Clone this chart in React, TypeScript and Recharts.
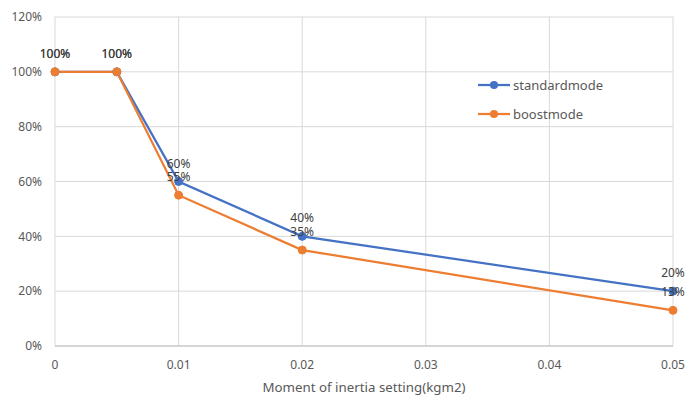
import {
  LineChart,
  Line,
  XAxis,
  YAxis,
  CartesianGrid,
  LabelList,
} from "recharts";

const inertia = [0, 0.005, 0.01, 0.02, 0.05];
const standardMode = [1.0, 1.0, 0.6, 0.4, 0.2];
const boostMode = [1.0, 1.0, 0.55, 0.35, 0.13];
const xTicks = [0, 0.01, 0.02, 0.03, 0.04, 0.05];
const yTicks = [0, 0.2, 0.4, 0.6, 0.8, 1.0, 1.2];

const BLUE = "#4472C4";
const ORANGE = "#ED7D31";
const FONT = "'Noto Sans', sans-serif";

const data = inertia.map((x, i) => ({
  x,
  standardmode: standardMode[i],
  boostmode: boostMode[i],
}));

const pct = (v: number) => `${Math.round(v * 100)}%`;

// legend sits inside the plot area, so it is drawn as an overlay
function LegendBox() {
  const items = [
    { name: "standardmode", color: BLUE },
    { name: "boostmode", color: ORANGE },
  ];
  return (
    <div
      style={{
        position: "absolute",
        left: 478,
        top: 70,
        fontFamily: FONT,
        fontSize: 13,
        color: "#595959",
      }}
    >
      {items.map((it) => (
        <div
          key={it.name}
          style={{ display: "flex", alignItems: "center", height: 29 }}
        >
          <svg width={34} height={10} style={{ marginRight: 1 }}>
            <line x1={0} y1={5} x2={32} y2={5} stroke={it.color} strokeWidth={2.25} />
            <circle cx={16} cy={5} r={4} fill={it.color} />
          </svg>
          <span>{it.name}</span>
        </div>
      ))}
    </div>
  );
}

export default function App() {
  return (
    <div style={{ position: "absolute", left: 0, top: 0, width: 699, height: 396, background: "#fff" }}>
      <LineChart
        width={699}
        height={396}
        data={data}
        margin={{ top: 17, right: 26, left: 0, bottom: 0 }}
      >
        <CartesianGrid stroke="#d9d9d9" strokeWidth={1} />
        <XAxis
          dataKey="x"
          type="number"
          domain={[0, 0.05]}
          ticks={xTicks}
          tickFormatter={(v: number) => String(v)}
          tickLine={false}
          tickMargin={8}
          axisLine={{ stroke: "#bfbfbf" }}
          height={50}
          tick={{ fill: "#595959", fontSize: 12, fontFamily: FONT }}
          label={{
            value: "Moment of inertia setting(kgm2)",
            position: "insideBottom",
            offset: 4,
            fill: "#595959",
            fontSize: 13.3,
            fontFamily: FONT,
          }}
        />
        <YAxis
          type="number"
          domain={[0, 1.2]}
          ticks={yTicks}
          tickFormatter={pct}
          tickLine={false}
          axisLine={false}
          tickMargin={7}
          width={55}
          tick={{ fill: "#595959", fontSize: 12, fontFamily: FONT }}
        />
        <Line
          dataKey="standardmode"
          stroke={BLUE}
          strokeWidth={2.25}
          dot={{ r: 4, fill: BLUE, stroke: BLUE, strokeWidth: 1 }}
          isAnimationActive={false}
        >
          <LabelList
            dataKey="standardmode"
            position="top"
            offset={14}
            formatter={(v: number) => pct(v)}
            style={{ fill: "#404040", fontSize: 12, fontFamily: FONT }}
          />
        </Line>
        <Line
          dataKey="boostmode"
          stroke={ORANGE}
          strokeWidth={2.25}
          dot={{ r: 4, fill: ORANGE, stroke: ORANGE, strokeWidth: 1 }}
          isAnimationActive={false}
        >
          <LabelList
            dataKey="boostmode"
            position="top"
            offset={14}
            formatter={(v: number) => pct(v)}
            style={{ fill: "#404040", fontSize: 12, fontFamily: FONT }}
          />
        </Line>
      </LineChart>
      <LegendBox />
    </div>
  );
}
